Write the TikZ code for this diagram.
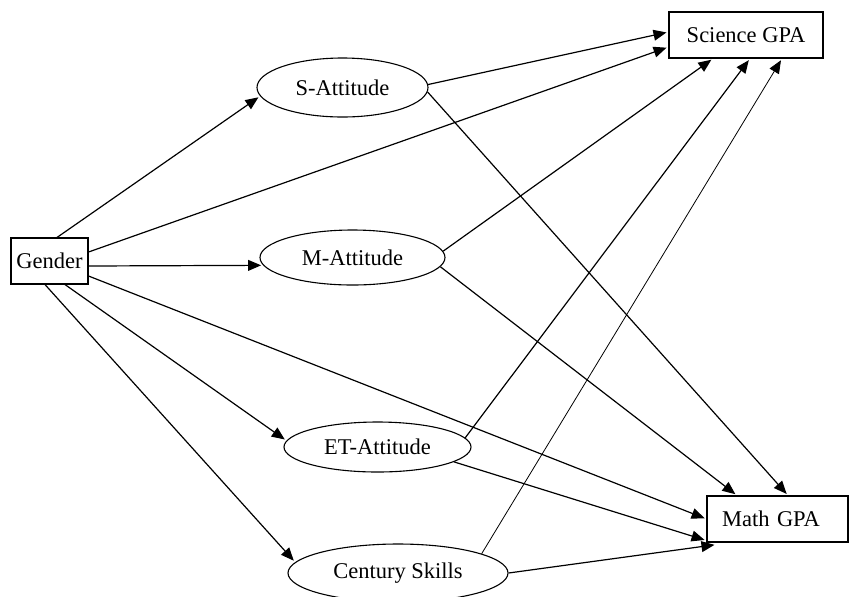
\documentclass[tikz,border=0pt]{standalone}
\usepackage{fontspec}
\setmainfont{Liberation Serif}
\usetikzlibrary{shapes.geometric,arrows.meta}

\begin{document}
\begin{tikzpicture}[x=0.5pt,y=-0.5pt]
\tikzset{var/.style={draw, line width=0.55pt, inner sep=0pt, font=\fontsize{11.25}{13.5}\selectfont},
         obs/.style={var, rectangle},
         lat/.style={var, ellipse},
         path/.style={line width=0.6pt, shorten >=1pt, -{Triangle[length=6.5pt,width=5.4pt]}}}
\useasboundingbox (0,0) rectangle (850,596);

\node[obs, minimum width=38.5pt, minimum height=23pt] (gender) at (49.5,261) {Gender};
\node[lat, minimum width=85.5pt, minimum height=29.5pt] (satt) at (342.5,87.5) {S-Attitude};
\node[lat, minimum width=92.5pt, minimum height=27.5pt] (matt) at (352.5,257.5) {M-Attitude};
\node[lat, minimum width=93.5pt, minimum height=25pt] (etatt) at (377.5,447) {ET-Attitude};
\node[lat, minimum width=110pt, minimum height=29pt] (skills) at (398,573) {Century Skills};
\node[obs, minimum width=77pt, minimum height=23pt] (sci) at (746,35) {Science GPA};
\node[obs, minimum width=70.5pt, minimum height=23pt, text width=55.5pt, align=left] (math) at (777.5,519) {Math GPA};

% gender paths
\draw[path] ([xshift=3.75pt]gender.north) -- (satt.186);
\draw[path] ([yshift=4.5pt]gender.east) -- ([yshift=-6pt]sci.west);
\draw[path] ([yshift=-2.5pt]gender.east) -- (matt.185.5);
\draw[path] ([yshift=-7.5pt]gender.east) -- (math.west);
\draw[path] ([xshift=7.75pt]gender.south) -- (etatt.176);
\draw[path] ([xshift=-2.25pt]gender.south) -- (skills.174);

% attitudes to GPA
\draw[path] (satt.2) -- ([yshift=1.5pt]sci.west);
\draw[path] (satt.357) -- ([xshift=5.25pt]math.north);
\draw[path] (matt.4) -- ([xshift=-16.5pt]sci.south);
\draw[path] (matt.354) -- ([xshift=-20.25pt]math.north);
\draw[path] (etatt.6) -- ([xshift=2pt]sci.south);
\draw[path] (etatt.349) -- ([yshift=1pt]math.south west);
\draw[path, line width=0.4pt] (skills.13) -- ([xshift=18pt]sci.south);
\draw[path] (skills.east) -- ([xshift=5pt,yshift=-1pt]math.south west);
\end{tikzpicture}
\end{document}
